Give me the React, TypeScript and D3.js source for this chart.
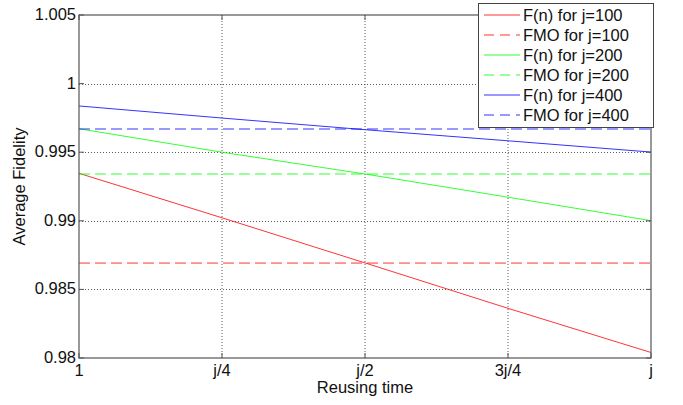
import React from "react";
import * as d3 from "d3";

const xTickLabels = ["1", "j/4", "j/2", "3j/4", "j"];
const xPositions = [0, 1, 2, 3, 4];
const yTicks = [0.98, 0.985, 0.99, 0.995, 1, 1.005];
const yTickLabels = ["0.98", "0.985", "0.99", "0.995", "1", "1.005"];

const fn100 = [0.99346, 0.99022, 0.98693, 0.98362, 0.9804];
const fn200 = [0.99671, 0.995, 0.99341, 0.99172, 0.99001];
const fn400 = [0.99837, 0.99749, 0.99664, 0.99583, 0.99501];
const fmo100 = 0.98692;
const fmo200 = 0.99341;
const fmo400 = 0.99669;

const seriesNames = ["F(n) for j=100", "FMO for j=100", "F(n) for j=200", "FMO for j=200", "F(n) for j=400", "FMO for j=400"];

export default function App() {
  const W = 683, H = 405;
  const L = 79, R = 651, T = 15, B = 358;
  const x = d3.scaleLinear().domain([0, 4]).range([L, R]);
  const y = d3.scaleLinear().domain([0.98, 1.005]).range([B, T]);
  const line = d3.line<number>().x((_, i) => x(xPositions[i])).y((d) => y(d));
  const font = "Arial, 'Liberation Sans', sans-serif";
  const axisColor = "#555";
  const gridColor = "#333";
  const fs = 16.5;

  const lines = [
    { name: seriesNames[0], color: "#ff0000", dash: "", data: fn100 },
    { name: seriesNames[1], color: "#ff0000", dash: "11,5", data: xPositions.map(() => fmo100) },
    { name: seriesNames[2], color: "#00ff00", dash: "", data: fn200 },
    { name: seriesNames[3], color: "#00ff00", dash: "11,5", data: xPositions.map(() => fmo200) },
    { name: seriesNames[4], color: "#0000ff", dash: "", data: fn400 },
    { name: seriesNames[5], color: "#0000ff", dash: "11,5", data: xPositions.map(() => fmo400) },
  ];

  return (
    <svg width={W} height={H} style={{ position: "absolute", left: 0, top: 0, background: "#fff" }} fontFamily={font}>
      <rect x={0} y={0} width={W} height={H} fill="#fff" />
      {xPositions.slice(1, 4).map((p) => (
        <line key={"gx" + p} x1={x(p)} x2={x(p)} y1={T} y2={B} stroke={gridColor} strokeWidth={1} strokeDasharray="1,2" opacity={0.8} />
      ))}
      {yTicks.slice(1, 5).map((v) => (
        <line key={"gy" + v} x1={L} x2={R} y1={Math.round(y(v)) + 0.5} y2={Math.round(y(v)) + 0.5} stroke={gridColor} strokeWidth={1} strokeDasharray="1,2" opacity={0.8} />
      ))}
      {lines.map((s) => (
        <path key={s.name} d={line(s.data) || ""} fill="none" stroke={s.color} strokeWidth={1} strokeDasharray={s.dash} opacity={0.8} />
      ))}
      <rect x={L} y={T} width={R - L} height={B - T} fill="none" stroke={axisColor} strokeWidth={1.2} />
      {xPositions.map((p) => (
        <g key={"tx" + p}>
          <line x1={x(p)} x2={x(p)} y1={B} y2={B - 5} stroke={axisColor} />
          <line x1={x(p)} x2={x(p)} y1={T} y2={T + 5} stroke={axisColor} />
          <text x={x(p)} y={376} textAnchor="middle" fontSize={fs} fill="#111">{xTickLabels[p]}</text>
        </g>
      ))}
      {yTicks.map((v, i) => (
        <g key={"ty" + v}>
          <line x1={L} x2={L + 5} y1={y(v)} y2={y(v)} stroke={axisColor} />
          <line x1={R} x2={R - 5} y1={y(v)} y2={y(v)} stroke={axisColor} />
          <text x={L - 3} y={y(v) + 5} textAnchor="end" fontSize={fs} fill="#111">{yTickLabels[i]}</text>
        </g>
      ))}
      <text x={(L + R) / 2} y={393} textAnchor="middle" fontSize={fs} fill="#111">Reusing time</text>
      <text transform={`translate(25,${(T + B) / 2}) rotate(-90)`} textAnchor="middle" fontSize={fs} fill="#111">Average Fidelity</text>
      <rect x={478.5} y={3.5} width={175} height={124} fill="#fff" stroke="#444" strokeWidth={1} />
      {lines.map((s, i) => {
        const ly = 15 + i * 20;
        return (
          <g key={"lg" + i}>
            <line x1={484} x2={520} y1={ly} y2={ly} stroke={s.color} strokeWidth={1} strokeDasharray={s.dash ? "10,6" : ""} opacity={0.8} />
            <text x={523} y={ly + 6} fontSize={fs} fill="#111">{s.name}</text>
          </g>
        );
      })}
    </svg>
  );
}
